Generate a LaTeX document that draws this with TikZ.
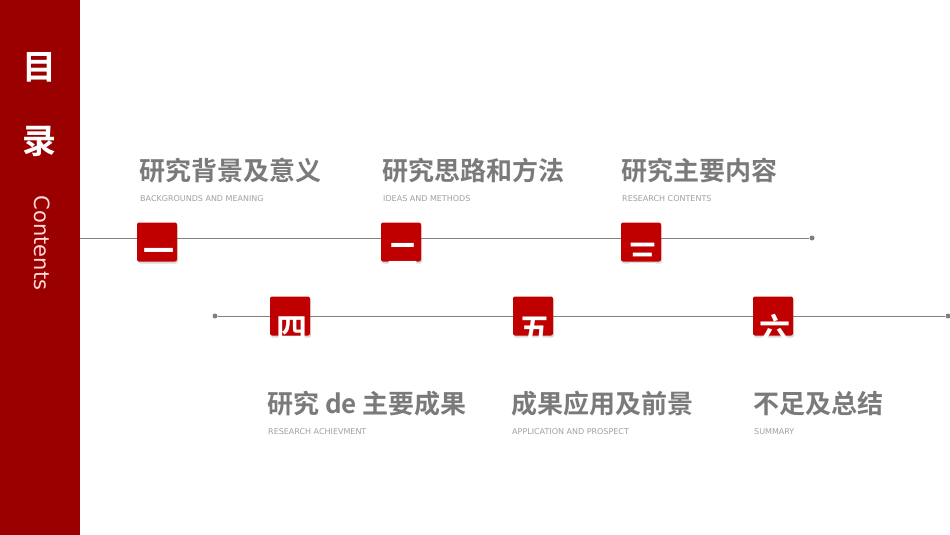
\documentclass[tikz,border=0pt]{standalone}
\usepackage{fontspec}
\setmainfont{DejaVu Sans}
\newfontfamily\cjk{Noto Sans CJK SC}
\newfontfamily\cjkb{Noto Sans CJK SC Bold}
\usetikzlibrary{shadows}
\definecolor{dred}{HTML}{9A0000}
\definecolor{bred}{HTML}{C00000}
\definecolor{tgray}{HTML}{7A7A7A}
\definecolor{sgray}{HTML}{A0A0A0}
\definecolor{lgray}{HTML}{808080}
\begin{document}
\begin{tikzpicture}[x=1pt,y=-1pt,
  numbox/.style={fill=bred,minimum width=40pt,minimum height=39pt,rounded corners=2pt,inner sep=0,drop shadow={shadow xshift=1pt,shadow yshift=-2pt,opacity=0.3}},
  numeral/.style={text=white,font=\cjkb\fontsize{31}{31}\selectfont,inner sep=0},
  ttl/.style={anchor=west,text=tgray,font=\cjkb\fontsize{26}{26}\selectfont,inner sep=0},
  sub/.style={anchor=west,text=sgray,font=\fontsize{8}{8}\selectfont,inner sep=0},
  dotc/.style={circle,fill=lgray,inner sep=0,minimum size=5pt},
  tline/.style={draw=lgray,line width=1pt}]
\useasboundingbox (0,0) rectangle (950,535);
\fill[dred] (0,0) rectangle (80,535);
\node[text=white,font=\cjkb\fontsize{34}{34}\selectfont] (mu) at (40,67) {目};
\node[text=white,font=\cjkb\fontsize{34}{34}\selectfont] (lu) at (40,141) {录};
\node[text=white!85!red,rotate=-90,font=\fontsize{21}{21}\selectfont] (ct) at (42,243) {Contents};
% lines
\coordinate (l1s) at (80,238);
\node[dotc] (d1) at (812,238) {};
\draw[tline] (l1s) -- (d1);
\node[dotc] (d2) at (215,316) {};
\node[dotc] (d3) at (948,316) {};
\draw[tline] (d2) -- (d3);
% boxes
\foreach \n/\x/\y/\c in {b1/157/242/一,b2/401/242/二,b3/641/242/三,b4/290/316/四,b5/533/316/五,b6/773/316/六}{
  \node[numbox] (\n) at (\x,\y) {};
  \node[numeral] (\n t) at ([shift={(2,13)}]\n.center) {\c};
}
% titles
\node[ttl] (t1) at (139,171) {研究背景及意义};
\node[sub] (s1) at (140,199) {BACKGROUNDS AND MEANING};
\node[ttl] (t2) at (382,171) {研究思路和方法};
\node[sub] (s2) at (383,199) {IDEAS AND METHODS};
\node[ttl] (t3) at (621,171) {研究主要内容};
\node[sub] (s3) at (622,199) {RESEARCH CONTENTS};
\node[ttl] (t4) at (267,404) {研究 de 主要成果};
\node[sub] (s4) at (268,432) {RESEARCH ACHIEVMENT};
\node[ttl] (t5) at (511,404) {成果应用及前景};
\node[sub] (s5) at (512,432) {APPLICATION AND PROSPECT};
\node[ttl] (t6) at (753,404) {不足及总结};
\node[sub] (s6) at (754,432) {SUMMARY};
\end{tikzpicture}
\end{document}
